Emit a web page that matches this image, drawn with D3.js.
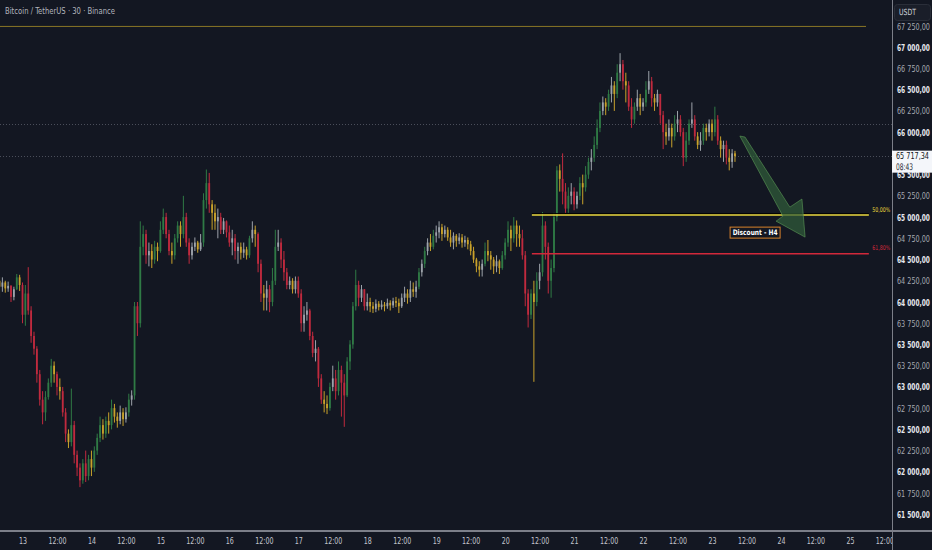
<!DOCTYPE html>
<html><head><meta charset="utf-8">
<script src="https://cdn.jsdelivr.net/npm/d3@7"></script>
<style>
html,body{margin:0;padding:0;background:#131722;}
svg{display:block;}
text{font-family:"DejaVu Sans Condensed","Liberation Sans Narrow","Roboto",sans-serif;}
</style></head><body>
<svg id="c" width="932" height="550"></svg>
<script>
// ---------- DATA ----------
const title = "Bitcoin / TetherUS · 30 · Binance";
const firstBarHour = -8;        // first bar: day 12, 16:00 (hours relative to day 13 00:00)
const firstOpen = 64250;
const closes = [
64180,64230,64160,64190,64060,64150,64290,64200,63850,64100,63900,63600,
63450,63150,62850,62700,62880,63050,63250,63150,63000,62950,62700,62450,
62350,62550,62200,62050,61900,62100,61950,62150,62050,62250,62400,62550,
62450,62600,62550,62750,62650,62600,62700,62620,62700,62850,62900,63950,
63750,64650,64800,64550,64600,64500,64650,64600,64850,65000,64800,64600,
64550,64750,64900,64800,65000,64700,64550,64650,64700,64620,64700,65200,
65400,65150,65050,64950,65000,64850,64950,64820,64700,64750,64600,64650,
64580,64620,64550,64750,64850,64800,64450,64100,64050,64150,64000,64250,
64650,64700,64500,64350,64200,64250,64150,64250,64100,63750,63850,63900,
63600,63400,63450,63100,62850,62800,62750,63000,63100,62950,63200,63050,
62900,63300,63500,63950,64200,64050,64150,63950,64000,63950,63920,63980,
63940,63970,63950,63990,63960,64010,63990,63950,64050,64100,64050,64150,
64120,64180,64350,64450,64600,64700,64650,64780,64820,64880,64800,64850,
64760,64700,64780,64720,64760,64700,64730,64680,64600,64500,64420,64380,
64450,64600,64550,64500,64420,64480,64400,64550,64700,64850,64750,64900,
64800,64750,64550,64100,63850,64100,64000,64250,64350,64900,64650,64250,
64400,65000,65550,65450,65300,65100,65250,65300,65150,65250,65400,65350,
65500,65650,65700,65850,66050,66250,66350,66300,66450,66550,66450,66700,
66800,66600,66550,66300,66150,66300,66400,66300,66350,66500,66600,66400,
66350,66450,66200,66000,65950,66050,65950,66100,66150,66000,65700,65900,
66100,66150,65950,65850,65900,66050,66000,66100,66000,66150,65900,65800,
65850,65700,65650,65750,65717.34];
const highs = [
64300,64290,64250,64240,64200,64180,64330,64320,64230,64200,64410,63950,
63650,63480,63200,62950,62950,63100,63330,63300,63180,63100,63000,62750,
62500,62980,62600,62250,62100,62150,62250,62200,62250,62300,62450,62650,
62620,62650,62700,62850,62800,62700,62780,62750,62760,62920,62960,64000,
64000,64950,64900,64850,64700,64680,64720,64700,64950,65100,65050,64850,
64700,64800,64950,64950,65250,65050,64750,64700,64760,64720,64800,65280,
65560,65520,65200,65150,65100,65050,64990,64960,64900,64850,64800,64700,
64700,64700,64650,64780,64950,64900,64820,64500,64200,64250,64200,64400,
64850,64850,64750,64600,64400,64300,64280,64300,64300,64150,63950,64000,
63920,63650,63550,63470,63150,62950,62900,63050,63250,63200,63300,63250,
63150,63350,63550,64000,64380,64250,64200,64150,64100,64050,64000,64030,
64010,64020,64000,64040,64020,64050,64060,64040,64100,64180,64150,64250,
64230,64250,64400,64500,64650,64750,64800,64850,64900,64950,64920,64900,
64880,64850,64820,64800,64810,64800,64780,64760,64720,64650,64520,64480,
64500,64700,64730,64600,64530,64550,64500,64600,64750,64950,64900,65000,
64960,64900,64850,64600,64150,64150,64250,64350,64450,65060,64950,64700,
64500,65050,65600,65620,65750,65400,65350,65400,65350,65300,65470,65500,
65600,65700,65800,65950,66150,66350,66420,66400,66500,66650,66600,66800,
66930,66850,66700,66600,66400,66350,66500,66450,66400,66600,66720,66650,
66450,66500,66450,66250,66100,66150,66100,66200,66250,66200,66050,66000,
66150,66350,66200,66000,66000,66100,66100,66150,66150,66300,66200,65950,
65900,65900,65800,65800,65780];
const lows = [
64050,64120,64110,64120,64000,64020,64140,64130,63750,63720,63850,63520,
63380,63050,62780,62560,62600,62850,63000,63050,62900,62850,62650,62350,
62280,62300,62100,61950,61820,61860,61880,61900,61950,62000,62200,62350,
62380,62400,62450,62500,62580,62520,62560,62540,62580,62650,62780,62850,
63600,63700,64550,64450,64420,64400,64450,64480,64580,64800,64750,64550,
64450,64500,64700,64650,64750,64650,64450,64500,64600,64580,64600,64650,
65100,65050,64850,64850,64750,64800,64800,64760,64650,64550,64500,64450,
64500,64520,64500,64520,64700,64650,64350,64000,63900,63900,63880,63950,
64200,64600,64400,64250,64150,64150,64100,64100,64050,63650,63650,63780,
63550,63350,63300,63000,62800,62700,62680,62720,62950,62850,62900,62650,
62530,62880,63200,63450,63900,63950,64000,63900,63900,63880,63870,63880,
63900,63910,63890,63920,63900,63930,63940,63870,63930,64000,63980,64000,
64060,64050,64150,64300,64400,64550,64600,64620,64700,64750,64720,64760,
64720,64650,64620,64650,64680,64640,64650,64620,64550,64460,64350,64300,
64300,64420,64480,64380,64330,64350,64330,64380,64500,64650,64600,64700,
64650,64650,64500,63950,63700,63800,63060,63950,64150,64300,64500,64100,
64050,64350,64950,65300,65150,65050,65050,65150,65080,65100,65200,65150,
65300,65450,65550,65650,65800,66000,66200,66200,66250,66350,66250,66400,
66600,66500,66350,66250,66050,66100,66250,66200,66250,66300,66450,66300,
66250,66300,66100,65800,65850,65900,65820,65900,66000,65950,65600,65650,
65850,66050,65900,65800,65780,65850,65900,65950,65900,65950,65850,65700,
65650,65620,65550,65580,65650];

const yTickValues = [67250,67000,66750,66500,66250,66000,65500,65250,65000,64750,64500,64250,64000,63750,63500,63250,63000,62750,62500,62250,62000,61750,61500];
const xTickHours  = [0,12,24,36,48,60,72,84,96,108,120,132,144,156,168,180,192,204,216,228,240,252,264,276,288,300];
const xTickLabels = ["13","12:00","14","12:00","15","12:00","16","12:00","17","12:00","18","12:00","19","12:00","20","12:00","21","12:00","22","12:00","23","12:00","24","12:00","25","12:00"];

const topLevelPrice = 67245;
const dottedLevels = [66092, 65717.34];
const lastPrice = 65717.34;
const countdown = "08:43";
const fibLevels = [{label:"50,00%", price:65023, color:"#e8d63c"}, {label:"61,80%", price:64567, color:"#d2283a"}];
const fibRange = [177.3, 294.6];
const arrowPts = [[249.7,65954],[251.5,65942],[267.1,65117],[271.3,65212],[272.4,64764],[262.3,64952],[264.7,65011]];
const noteLabel = {text:"Discount  - H4", hour:255, price:64817};

// ---------- LAYOUT ----------
const W = 932, H = 550, plotR = 892, plotB = 531;
const svg = d3.select("#c");
const x = d3.scaleLinear().domain([0, 288]).range([22.5, 849.9]);
const y = d3.scaleLinear().domain([61500, 67250]).range([514.3, 26]);
const loc = d3.formatLocale({decimal:",", thousands:" ", grouping:[3], currency:["",""]});
const fmt = loc.format(",.2f");

// compress text horizontally (anchored at its x) so that it is `width` px wide
function fitTo(sel, width){
  sel.each(function(){
    const w = this.getComputedTextLength();
    if (!(w > 0)) return;
    const f = Math.min(1, width / w);
    const x0 = +(this.getAttribute("x") || 0);
    d3.select(this).attr("transform", `translate(${x0},0) scale(${f},1) translate(${-x0},0)`);
  });
}
function squeeze(sel, factor){
  sel.each(function(){
    const x0 = +(this.getAttribute("x") || 0);
    d3.select(this).attr("transform", `translate(${x0},0) scale(${factor},1) translate(${-x0},0)`);
  });
}

svg.append("rect").attr("width",W).attr("height",H).attr("fill","#131722");
const defs = svg.append("defs");
defs.append("clipPath").attr("id","plot").append("rect").attr("x",0).attr("y",0).attr("width",plotR).attr("height",plotB);
defs.append("clipPath").attr("id","xc").append("rect").attr("x",0).attr("y",plotB).attr("width",plotR).attr("height",H-plotB);
const plot = svg.append("g").attr("clip-path","url(#plot)");

// dotted levels
plot.selectAll("line.dot").data(dottedLevels).join("line")
  .attr("x1",0).attr("x2",plotR).attr("y1",d=>Math.round(y(d))+0.5).attr("y2",d=>Math.round(y(d))+0.5)
  .attr("stroke","#4a4e5a").attr("stroke-width",1).attr("stroke-dasharray","1,2");
// top level line
plot.append("line").attr("x1",0).attr("x2",866).attr("y1",y(topLevelPrice)).attr("y2",y(topLevelPrice))
  .attr("stroke","#8a7626").attr("stroke-width",1);

// candles
const bars = closes.map((c,i)=>{
  const o = i===0 ? firstOpen : closes[i-1];
  return {h: firstBarHour + i, o, c, hi: Math.max(highs[i],o,c), lo: Math.min(lows[i],o,c)};
});
function col(d){
  const ch = d.c - d.o;
  if (ch >= 0) return ch >= 120 ? "#2f7a45" : "#9da3ab";
  return ch <= -120 ? "#c02a3e" : "#c9a22b";
}
const cg = plot.append("g");
cg.selectAll("line").data(bars).join("line")
  .attr("x1",d=>x(d.h)).attr("x2",d=>x(d.h)).attr("y1",d=>y(d.hi)).attr("y2",d=>y(d.lo))
  .attr("stroke",col).attr("stroke-width",1);
cg.selectAll("rect").data(bars).join("rect")
  .attr("x",d=>x(d.h)-0.9).attr("width",1.8)
  .attr("y",d=>y(Math.max(d.o,d.c))).attr("height",d=>Math.max(1,Math.abs(y(d.o)-y(d.c))))
  .attr("fill",col);

// fib lines
const fg = plot.append("g");
fg.append("line").attr("x1",x(fibRange[0])).attr("x2",x(fibRange[1]))
  .attr("y1",y(fibLevels[0].price)-1.5).attr("y2",y(fibLevels[0].price)-1.5).attr("stroke","#000").attr("stroke-width",1);
fg.selectAll("line.f").data(fibLevels).join("line").attr("class","f")
  .attr("x1",x(fibRange[0])).attr("x2",x(fibRange[1])).attr("y1",d=>y(d.price)).attr("y2",d=>y(d.price))
  .attr("stroke",d=>d.color).attr("stroke-width",1.5);
const ft = svg.append("g").selectAll("text").data(fibLevels).join("text")
  .attr("x",x(fibRange[1])+3.5).attr("y",d=>y(d.price)-3.5).attr("fill",d=>d.color)
  .attr("font-size",6.5).text(d=>d.label);
fitTo(ft, 18);

// arrow
plot.append("polygon").attr("points",arrowPts.map(p=>[x(p[0]),y(p[1])].join(",")).join(" "))
  .attr("fill","#32603a").attr("fill-opacity",0.7).attr("stroke","#5c9a57").attr("stroke-opacity",0.6).attr("stroke-width",1);

// note label
const ng = plot.append("g").attr("transform",`translate(${x(noteLabel.hour)},${y(noteLabel.price)})`);
const nt = ng.append("text").attr("text-anchor","middle").attr("dy","0.35em").attr("fill","#ffffff")
  .attr("font-size",7.5).attr("font-weight","bold").text(noteLabel.text);
fitTo(nt, 45);
ng.insert("rect","text").attr("x",-25).attr("y",-5.5).attr("width",50).attr("height",11)
  .attr("fill","#131722").attr("stroke","#d9822b").attr("stroke-width",1);

// title
const tt = svg.append("text").attr("x",5).attr("y",14.5).attr("fill","#b2b5be").attr("font-size",9.5).text(title);
fitTo(tt, 110);

// separators
svg.append("line").attr("x1",plotR+0.5).attr("x2",plotR+0.5).attr("y1",0).attr("y2",H).attr("stroke","#7c7f89").attr("stroke-width",1);
svg.append("line").attr("x1",0).attr("x2",W).attr("y1",plotB).attr("y2",plotB).attr("stroke","#7c7f89").attr("stroke-width",2);

// y axis
const ya = svg.append("g").attr("transform",`translate(${plotR},0)`)
  .call(d3.axisRight(y).tickValues(yTickValues).tickFormat(fmt).tickSize(0).tickPadding(5));
ya.select(".domain").remove();
ya.selectAll("text").attr("font-family",null).attr("font-size",9.5)
  .attr("fill",d=>d%500===0?"#e6e8ee":"#a4a7b0").attr("font-weight",d=>d%500===0?"bold":"normal");
fitTo(ya.selectAll("text"), 33);

// x axis
const xa = svg.append("g").attr("clip-path","url(#xc)").append("g").attr("transform",`translate(0,${plotB})`)
  .call(d3.axisBottom(x).tickValues(xTickHours).tickFormat((d,i)=>xTickLabels[i]).tickSize(0).tickPadding(6.5));
xa.select(".domain").remove();
xa.selectAll("text").attr("font-family",null).attr("font-size",9).attr("fill","#c3c6ce");
squeeze(xa.selectAll("text"), 0.78);

// USDT box
svg.append("rect").attr("x",894.5).attr("y",4.5).attr("width",36).attr("height",16).attr("rx",3)
  .attr("fill","#1a1e29").attr("stroke","#2a2e39");
const ut = svg.append("text").attr("x",899).attr("y",15.5).attr("fill","#d1d4dc").attr("font-size",8.5).text("USDT");
fitTo(ut, 17);

// last price label
const ly = y(lastPrice);
svg.append("rect").attr("x",plotR).attr("y",ly-5.5).attr("width",W-plotR).attr("height",22).attr("fill","#f4f6fa");
const lp = svg.append("text").attr("x",plotR+4).attr("y",ly+3.3).attr("fill","#131722").attr("font-size",9.5).text(fmt(lastPrice));
fitTo(lp, 33);
const cd = svg.append("text").attr("x",plotR+4).attr("y",ly+13.5).attr("fill","#2a2e39").attr("font-size",9).text(countdown);
fitTo(cd, 17);
</script></body></html>
